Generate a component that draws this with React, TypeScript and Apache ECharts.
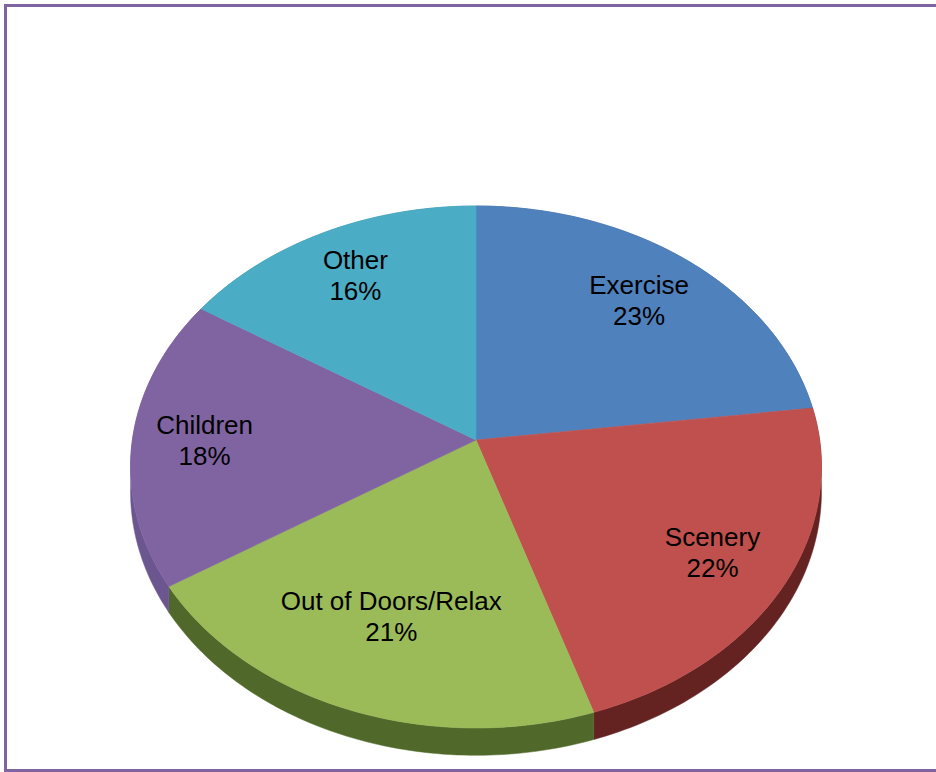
import React, { useEffect, useRef } from "react";
import * as echarts from "echarts";

const categories = ["Exercise", "Scenery", "Out of Doors/Relax", "Children", "Other"];
const values = [23, 22, 21, 18, 16];

const topColors = ["#4F81BD", "#C0504D", "#9BBB59", "#8064A2", "#4BACC6"];
const sideColors = ["#3A6090", "#642220", "#50692A", "#6C5690", "#37879C"];
const labelRadius = [0.76, 0.78, 0.68, 0.79, 0.78];

// perspective geometry
const CX = 476;
const CY = 440;
const RX = 343.6;
const RY = 258.2;
const PERSP = 0.1034;
const DEPTH = 24.5;

const total = values.reduce((a, b) => a + b, 0);

function proj(theta: number, k: number, drop: number): number[] {
  const s = Math.sin(theta) * k;
  const c = Math.cos(theta) * k;
  const d = 1 + PERSP * c;
  return [CX + (RX * s) / d, CY - (RY * c) / d + drop / d];
}

function sliceAngles(idx: number, v: number) {
  let before = 0;
  for (let i = 0; i < idx; i++) before += values[i];
  const a0 = (before / total) * Math.PI * 2;
  const a1 = a0 + (v / total) * Math.PI * 2;
  return [a0, a1];
}

function arcPoints(a0: number, a1: number, drop: number): number[][] {
  const n = Math.max(8, Math.ceil(((a1 - a0) / (Math.PI * 2)) * 360));
  const pts: number[][] = [];
  for (let i = 0; i <= n; i++) {
    const t = a0 + ((a1 - a0) * i) / n;
    pts.push(proj(t, 1, drop));
  }
  return pts;
}

export default function App() {
  const ref = useRef<HTMLDivElement>(null);
  useEffect(() => {
    if (!ref.current) return;
    const chart = echarts.init(ref.current, undefined, { renderer: "svg" });
    const data = values.map((v, i) => ({ value: v, name: categories[i] }));
    chart.setOption({
      animation: false,
      backgroundColor: "#ffffff",
      graphic: [
        {
          type: "rect",
          shape: { x: 5.5, y: 5.5, width: 1000, height: 765 },
          style: { fill: "none", stroke: "#8064A2", lineWidth: 3 },
          silent: true,
        },
      ],
      series: [
        {
          type: "custom",
          coordinateSystem: "none",
          z: 1,
          data,
          renderItem: (params: any, api: any) => {
            const idx = params.dataIndex;
            const v = api.value(0);
            const [a0, a1] = sliceAngles(idx, v);
            const top = arcPoints(a0, a1, 0);
            const bottom = arcPoints(a0, a1, DEPTH).reverse();
            return {
              type: "polygon",
              shape: { points: top.concat(bottom) },
              style: { fill: sideColors[idx], stroke: sideColors[idx], lineWidth: 0.5 },
            };
          },
        },
        {
          type: "custom",
          coordinateSystem: "none",
          z: 2,
          data,
          renderItem: (params: any, api: any) => {
            const idx = params.dataIndex;
            const v = api.value(0);
            const [a0, a1] = sliceAngles(idx, v);
            const pts = [[CX, CY]].concat(arcPoints(a0, a1, 0));
            const mid = (a0 + a1) / 2;
            const lp = proj(mid, labelRadius[idx], 0);
            const pct = Math.round((v / total) * 100) + "%";
            return {
              type: "group",
              children: [
                {
                  type: "polygon",
                  shape: { points: pts },
                  style: { fill: topColors[idx], stroke: topColors[idx], lineWidth: 0.6 },
                },
                {
                  type: "text",
                  x: lp[0],
                  y: lp[1],
                  z2: 10,
                  style: {
                    text: categories[idx] + "\n" + pct,
                    fill: "#000000",
                    font: "26px 'Liberation Sans', Arial, sans-serif",
                    lineHeight: 31,
                    align: "center",
                    verticalAlign: "middle",
                  },
                },
              ],
            };
          },
        },
      ],
    });
    return () => chart.dispose();
  }, []);
  return (
    <div
      ref={ref}
      style={{ position: "fixed", left: 0, top: 0, width: 936, height: 772 }}
    />
  );
}
